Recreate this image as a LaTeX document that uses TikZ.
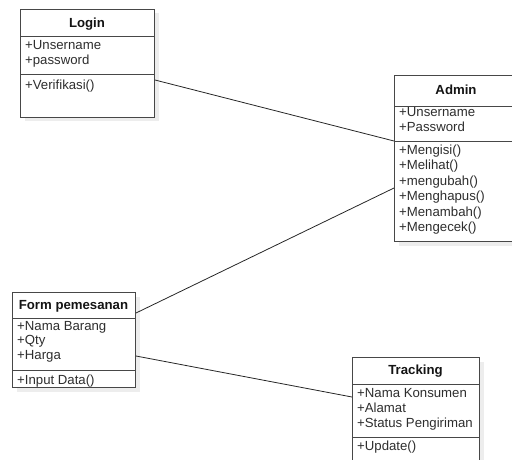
\documentclass[tikz,border=0pt]{standalone}
\usepackage{fontspec}
\setmainfont{Liberation Sans}
\usetikzlibrary{shadows}
\begin{document}
\begin{tikzpicture}[x=1pt,y=-1pt,
  classbox/.style={draw=black!72, line width=1pt, fill=white, anchor=north west,
    inner sep=0pt, drop shadow={shadow xshift=4pt, shadow yshift=-4pt, fill=black!7, opacity=1}},
  cell/.style={font=\fontsize{13.2}{15}\selectfont, text=black!82, anchor=base west, inner sep=0pt},
  classtitle/.style={font=\fontsize{13.2}{15}\selectfont\bfseries, text=black!92, anchor=base, inner sep=0pt},
  divider/.style={draw=black!72, line width=1pt},
  assoc/.style={draw=black!85, line width=0.8pt}]
\useasboundingbox (0,0) rectangle (512,459);
\clip (0,0) rectangle (512,459);

% class frames
\node[classbox, minimum width=134pt, minimum height=108pt] (login) at (20,8.5) {};
\node[classbox, minimum width=124pt, minimum height=166pt] (admin) at (394,75) {};
\node[classbox, minimum width=123pt, minimum height=95pt]  (form)  at (12,292) {};
\node[classbox, minimum width=127pt, minimum height=120pt] (track) at (352,357) {};

% compartment dividers
\draw[divider] ([yshift=-27.5pt]login.north west) -- ([yshift=-27.5pt]login.north east);
\draw[divider] ([yshift=-66pt]login.north west) -- ([yshift=-66pt]login.north east);
\draw[divider] ([yshift=-31pt]admin.north west) -- ([yshift=-31pt]admin.north east);
\draw[divider] ([yshift=-66pt]admin.north west) -- ([yshift=-66pt]admin.north east);
\draw[divider] ([yshift=-26.5pt]form.north west) -- ([yshift=-26.5pt]form.north east);
\draw[divider] ([yshift=-78.5pt]form.north west) -- ([yshift=-78.5pt]form.north east);
\draw[divider] ([yshift=-27pt]track.north west) -- ([yshift=-27pt]track.north east);
\draw[divider] ([yshift=-80pt]track.north west) -- ([yshift=-80pt]track.north east);

% Login
\node[classtitle] (login-t) at (87,27) {Login};
\node[cell] (login-a1) at (25,49.5) {+Unsername};
\node[cell] (login-a2) at (25,64) {+password};
\node[cell] (login-m1) at (25,89) {+Verifikasi()};

% Admin
\node[classtitle] (admin-t) at (456,94) {Admin};
\node[cell] (admin-a1) at (399,116.5) {+Unsername};
\node[cell] (admin-a2) at (399,131.5) {+Password};
\node[cell] (admin-m1) at (399,154) {+Mengisi()};
\node[cell] (admin-m2) at (399,169.5) {+Melihat()};
\node[cell] (admin-m3) at (399,185) {+mengubah()};
\node[cell] (admin-m4) at (399,200.5) {+Menghapus()};
\node[cell] (admin-m5) at (399,216) {+Menambah()};
\node[cell] (admin-m6) at (399,231.5) {+Mengecek()};

% Form pemesanan
\node[classtitle] (form-t) at (73.5,309.5) {Form pemesanan};
\node[cell] (form-a1) at (17,330) {+Nama Barang};
\node[cell] (form-a2) at (17,344.5) {+Qty};
\node[cell] (form-a3) at (17,359) {+Harga};
\node[cell] (form-m1) at (17,384) {+Input Data()};

% Tracking
\node[classtitle] (track-t) at (415.5,374.5) {Tracking};
\node[cell] (track-a1) at (357,397) {+Nama Konsumen};
\node[cell] (track-a2) at (357,412) {+Alamat};
\node[cell] (track-a3) at (357,427) {+Status Pengiriman};
\node[cell] (track-m1) at (357,450) {+Update()};

% associations
\draw[assoc] ([yshift=-71.5pt]login.north east) -- ([yshift=-66pt]admin.north west);
\draw[assoc] ([yshift=-21pt]form.north east) -- ([yshift=-113pt]admin.north west);
\draw[assoc] ([yshift=-64pt]form.north east) -- ([yshift=-40pt]track.north west);
\end{tikzpicture}
\end{document}
